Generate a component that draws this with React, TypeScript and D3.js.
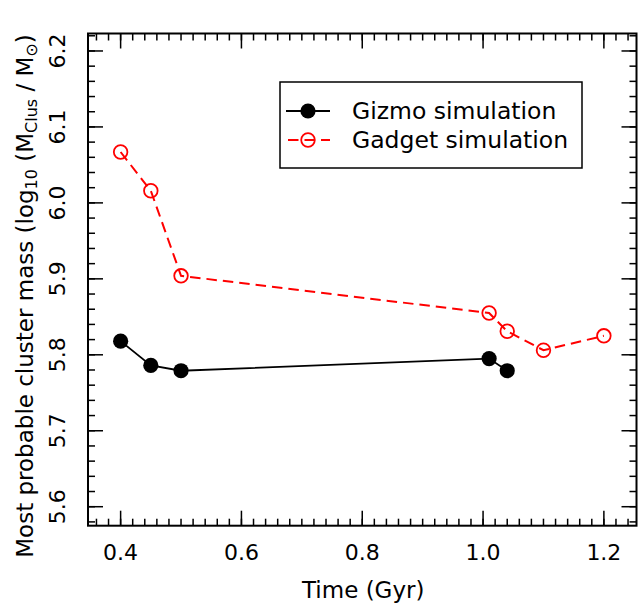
import React from "react";
import * as d3 from "d3";

// values
const gizmoTime = [0.4, 0.45, 0.5, 1.01, 1.04];
const gizmoMass = [5.818, 5.786, 5.779, 5.795, 5.779];
const gadgetTime = [0.4, 0.45, 0.5, 1.01, 1.04, 1.1, 1.2];
const gadgetMass = [6.067, 6.016, 5.904, 5.855, 5.831, 5.806, 5.825];
const xTicks = [0.4, 0.6, 0.8, 1.0, 1.2];
const yTicks = [5.6, 5.7, 5.8, 5.9, 6.0, 6.1, 6.2];

const W = 638, H = 604;
const L = 88, R = 636.5, T = 33.5, B = 525.7;
const FONT = "'DejaVu Sans', sans-serif";

export default function App() {
  const x = d3.scaleLinear().domain([0.346, 1.254]).range([L, R]);
  const y = d3.scaleLinear().domain([5.575, 6.223]).range([B, T]);

  const xMinor = d3.range(0.34, 1.27, 0.02).filter(v => x(v) > L + 1 && x(v) < R - 1);
  const yMinor = d3.range(5.56, 6.24, 0.02).filter(v => y(v) < B - 1 && y(v) > T + 1);

  const line = d3.line<[number, number]>().x(d => x(d[0])).y(d => y(d[1]));
  const gizmo: [number, number][] = gizmoTime.map((t, i) => [t, gizmoMass[i]]);
  const gadget: [number, number][] = gadgetTime.map((t, i) => [t, gadgetMass[i]]);

  return (
    <div style={{ position: "absolute", left: 0, top: 0 }}>
      <svg width={W} height={H} style={{ display: "block" }} fontFamily={FONT}>
        <rect width={W} height={H} fill="white" />

        {/* minor ticks, all four sides */}
        <g stroke="black" strokeWidth={1.5}>
          {xMinor.map((v, i) => (
            <g key={"xm" + i}>
              <line x1={x(v)} x2={x(v)} y1={B} y2={B - 7} />
              <line x1={x(v)} x2={x(v)} y1={T} y2={T + 7} />
            </g>
          ))}
          {yMinor.map((v, i) => (
            <g key={"ym" + i}>
              <line x1={L} x2={L + 7} y1={y(v)} y2={y(v)} />
              <line x1={R} x2={R - 7} y1={y(v)} y2={y(v)} />
            </g>
          ))}
          {xTicks.map((v, i) => (
            <g key={"xM" + i}>
              <line x1={x(v)} x2={x(v)} y1={B} y2={B - 15} />
              <line x1={x(v)} x2={x(v)} y1={T} y2={T + 15} />
            </g>
          ))}
          {yTicks.map((v, i) => (
            <g key={"yM" + i}>
              <line x1={L} x2={L + 15} y1={y(v)} y2={y(v)} />
              <line x1={R} x2={R - 15} y1={y(v)} y2={y(v)} />
            </g>
          ))}
        </g>

        <rect x={L} y={T} width={R - L} height={B - T} fill="none" stroke="black" strokeWidth={2} />

        {/* tick labels */}
        {xTicks.map((v, i) => (
          <text key={"xl" + i} x={x(v)} y={560} fontSize={22} textAnchor="middle">
            {v.toFixed(1)}
          </text>
        ))}
        {yTicks.map((v, i) => (
          <text key={"yl" + i} transform={`translate(65,${y(v)}) rotate(-90)`} fontSize={22} textAnchor="middle">
            {v.toFixed(1)}
          </text>
        ))}

        {/* axis titles */}
        <text x={(L + R) / 2 + 1} y={598} fontSize={23} textAnchor="middle">Time (Gyr)</text>
        <text transform="translate(33,296) rotate(-90)" fontSize={23} textAnchor="middle">
          Most probable cluster mass (log
          <tspan fontSize={16} dy={4}>10</tspan>
          <tspan dy={-4}> (M</tspan>
          <tspan fontSize={16} dy={4}>Clus</tspan>
          <tspan dy={-4}> / M</tspan>
          <tspan fontSize={16} dy={4}>⊙</tspan>
          <tspan dy={-4}>)</tspan>
        </text>

        {/* series */}
        <path d={line(gizmo) ?? ""} fill="none" stroke="black" strokeWidth={1.8} />
        {gizmo.map((d, i) => (
          <circle key={"g" + i} cx={x(d[0])} cy={y(d[1])} r={7.6} fill="black" />
        ))}
        <path d={line(gadget) ?? ""} fill="none" stroke="red" strokeWidth={2} strokeDasharray="10.5,6" />
        {gadget.map((d, i) => (
          <circle key={"r" + i} cx={x(d[0])} cy={y(d[1])} r={6.8} fill="none" stroke="red" strokeWidth={1.8} />
        ))}

        {/* legend */}
        <rect x={280} y={82} width={302} height={86} fill="white" stroke="black" strokeWidth={1.5} />
        <line x1={286} x2={330} y1={111} y2={111} stroke="black" strokeWidth={1.8} />
        <circle cx={308} cy={111} r={7.6} fill="black" />
        <line x1={286} x2={330} y1={140} y2={140} stroke="red" strokeWidth={2} strokeDasharray="10.5,6" strokeDashoffset={-2} />
        <circle cx={308} cy={140} r={6.8} fill="none" stroke="red" strokeWidth={1.8} />
        <text x={352} y={119} fontSize={23.5}>Gizmo simulation</text>
        <text x={352} y={148} fontSize={23.5}>Gadget simulation</text>
      </svg>
    </div>
  );
}
